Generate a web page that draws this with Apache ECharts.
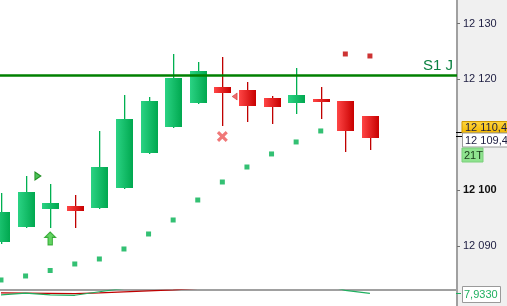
<!DOCTYPE html>
<html><head><meta charset="utf-8">
<script src="https://cdn.jsdelivr.net/npm/echarts/dist/echarts.min.js"></script>
<style>html,body{margin:0;padding:0;background:#ffffff}#c{width:507px;height:306px}</style>
</head><body><div id="c"></div>
<script>
// ---- data ----
const barIndex = [0,1,2,3,4,5,6,7,8,9,10,11,12,13,14,15];
const opens  = [12090.73,12093.38,12096.62,12097.16,12096.80,12100.40,12106.71,12111.39,12115.71,12118.59,12118.05,12116.61,12115.71,12116.43,12116.07,12113.37];
const closes = [12096.08,12099.68,12097.70,12096.26,12104.18,12112.83,12116.07,12120.21,12121.47,12117.51,12115.17,12114.99,12117.15,12115.89,12110.67,12109.40];
const lows   = [12090.27,12093.26,12093.26,12093.26,12096.62,12100.22,12106.58,12111.21,12115.53,12111.57,12112.29,12111.93,12113.73,12112.83,12106.89,12107.25];
const highs  = [12099.50,12102.56,12101.12,12099.14,12110.67,12117.15,12116.79,12124.53,12123.09,12123.99,12119.49,12116.97,12122.01,12118.59,12116.07,12113.37];
const sarValues = [12083.84,12084.56,12085.55,12086.72,12087.62,12089.42,12092.12,12094.64,12098.24,12101.48,12104.18,12106.53,12108.69,12110.67,12124.53,12124.17];
const sarAbove  = [0,0,0,0,0,0,0,0,0,0,0,0,0,0,1,1];
const yTicks = [12090,12100,12120,12130];
const boldTick = 12100;
const s1Level = 12120.62;
const s1Label = 'S1 J';
const lastPrice = 12110.4;
const closePrice = 12109.4;
const timerLabel = '21T';
// signal markers: [barPosition, price]
const upTriangle = [1.5, 12102.56];
const upArrow = [2, 12091.31];
const sellCross = [9, 12109.68];
const leftTriangle = [9.5, 12116.88];
// lower indicator panel
const indGreen = [7.0,8.0,6.9,6.7,8.9,11.0,13.0,14.0,15.0,14.5,14.0,15.0,15.0,14.0,9.8,7.933];
const indRed   = [8.2,8.0,7.85,7.7,8.2,8.85,9.45,10.1,11.0,12.0,12.0,12.0,12.0,12.0,12.0,12.0];
const indLast = '7,9330';

// ---- chart ----
const FONT = '"Liberation Sans", Arial, sans-serif';
const chart = echarts.init(document.getElementById('c'), null, {renderer:'canvas'});
const fmt = v => { const s = String(Math.round(v)); return s.slice(0, s.length-3) + ' ' + s.slice(-3); };

const candleData = barIndex.map((i,k) => [i, opens[k], closes[k], lows[k], highs[k]]);
const greenGrad = new echarts.graphic.LinearGradient(0,0,1,0,[{offset:0,color:'#2bd384'},{offset:1,color:'#00a84f'}]);
const redGrad = new echarts.graphic.LinearGradient(0,0,1,0,[{offset:0,color:'#ff4646'},{offset:1,color:'#c80000'}]);
const split = 457/507;
const bg = new echarts.graphic.LinearGradient(0,0,1,0,[
  {offset:0,color:'#ffffff'},{offset:split,color:'#ffffff'},{offset:split,color:'#f0f0f0'},{offset:1,color:'#f0f0f0'}]);

function renderCandle(params, api) {
  const i = api.value(0), o = api.value(1), c = api.value(2), l = api.value(3), h = api.value(4);
  const up = c >= o;
  const pO = api.coord([i,o]), pC = api.coord([i,c]), pL = api.coord([i,l]), pH = api.coord([i,h]);
  const cx = Math.round(pO[0]);
  const bw = 17;
  const top = Math.round(Math.min(pO[1], pC[1]));
  const bot = Math.round(Math.max(pO[1], pC[1]));
  return {
    type: 'group',
    children: [
      {type:'rect', shape:{x:cx, y:Math.round(pH[1]), width:1.3, height:Math.round(pL[1])-Math.round(pH[1])},
        style:{fill: up ? '#00b050' : '#c00000'}},
      {type:'rect', shape:{x:cx-8, y:top, width:bw, height:Math.max(bot-top,3)},
        style:{fill: up ? greenGrad : redGrad}}
    ]
  };
}

const arrowPath = 'path://M5,0 L10,5 L7,5 L7,12 L3,12 L3,5 L0,5 Z';
const crossPath = 'path://M2,0 L5,3 L8,0 L10,2 L7,5 L10,8 L8,10 L5,7 L2,10 L0,8 L3,5 L0,2 Z';

chart.setOption({
  animation: false,
  backgroundColor: bg,
  grid: [
    {left:0, top:0, width:457, height:301.3, show:false},
    {left:0, top:290, width:457, height:40, show:false}
  ],
  xAxis: [
    {type:'value', gridIndex:0, min:-0.04, max:18.54, show:false, axisLine:{onZero:false}},
    {type:'value', gridIndex:1, min:-0.04, max:18.54, position:'top',
      axisLine:{show:true, onZero:false, lineStyle:{color:'#a0a0a0', width:2}}, axisTick:{show:false}, axisLabel:{show:false}, splitLine:{show:false}}
  ],
  yAxis: [
    {type:'value', gridIndex:0, position:'right', min:12080, max:12134.25, interval:10,
      axisLine:{show:true, onZero:false, lineStyle:{color:'#a0a0a0', width:2}},
      axisTick:{show:true, length:3, lineStyle:{color:'#707070'}, customValues: yTicks},
      splitLine:{show:false},
      axisLabel:{show:true, margin:6, customValues: yTicks,
        formatter: v => (v === boldTick ? '{b|' + fmt(v) + '}' : '{n|' + fmt(v) + '}'),
        rich:{n:{fontFamily:FONT, fontSize:11, color:'#1c1c40'}, b:{fontFamily:FONT, fontSize:11, fontWeight:'bold', color:'#101010'}}}
    },
    {type:'value', gridIndex:1, position:'right', min:0, max:10,
      axisLine:{show:true, onZero:false, lineStyle:{color:'#a0a0a0', width:2}}, axisTick:{show:false}, axisLabel:{show:false}, splitLine:{show:false}}
  ],
  series: [
    {type:'custom', xAxisIndex:0, yAxisIndex:0, renderItem: renderCandle, data: candleData, clip:true, z:3,
      markLine: {silent:true, symbol:'none', data:[{yAxis: s1Level}],
        lineStyle:{color:'#008000', width:2.5, type:'solid'},
        label:{show:true, position:'insideEndTop', formatter: s1Label, color:'#0a8040', fontFamily:FONT, fontSize:15, distance:[4,2]}}},
    {type:'scatter', xAxisIndex:0, yAxisIndex:0, symbol:'rect', symbolSize:5, z:4,
      data: barIndex.map((i,k) => ({value:[i, sarValues[k]], itemStyle:{color: sarAbove[k] ? '#c00000' : '#00b050'}}))},
    {type:'scatter', xAxisIndex:0, yAxisIndex:0, z:5, symbol:'triangle', symbolSize:[8,6], symbolRotate:-90,
      itemStyle:{color:'#20b030', borderColor:'#007a00', borderWidth:1}, data:[upTriangle]},
    {type:'scatter', xAxisIndex:0, yAxisIndex:0, z:5, symbol:arrowPath, symbolSize:[11,13],
      itemStyle:{color:'#3cc83c', borderColor:'#1a9a1a', borderWidth:1}, data:[upArrow]},
    {type:'scatter', xAxisIndex:0, yAxisIndex:0, z:5, symbol:crossPath, symbolSize:[11,11],
      itemStyle:{color:'#ec5656'}, data:[sellCross]},
    {type:'scatter', xAxisIndex:0, yAxisIndex:0, z:5, symbol:'triangle', symbolSize:[7,5], symbolRotate:90,
      itemStyle:{color:'#e84848', borderColor:'#c00000', borderWidth:0.5}, data:[leftTriangle]},
    {type:'line', xAxisIndex:1, yAxisIndex:1, showSymbol:false, clip:true, data: barIndex.map((i,k)=>[i, indRed[k]]),
      lineStyle:{color:'#c00000', width:1.2}},
    {type:'line', xAxisIndex:1, yAxisIndex:1, showSymbol:false, clip:true, data: barIndex.map((i,k)=>[i, indGreen[k]]),
      lineStyle:{color:'#20b060', width:1.2}}
  ]
});

// price tags on the right axis, placed through the axis scales
const yLast = chart.convertToPixel({yAxisIndex:0}, lastPrice);
const yClose = chart.convertToPixel({yAxisIndex:0}, closePrice);
const yInd = chart.convertToPixel({yAxisIndex:1}, 7.933);
const tagGrad = new echarts.graphic.LinearGradient(0,0,0,1,[{offset:0,color:'#ffd640'},{offset:1,color:'#f2b600'}]);
chart.setOption({
  graphic: [
    {type:'line', shape:{x1:456, y1:Math.round(yLast)+0.5, x2:462, y2:Math.round(yLast)+0.5}, style:{stroke:'#000', lineWidth:1}, z:50},
    {type:'line', shape:{x1:456, y1:Math.round(yClose)-1.5, x2:462, y2:Math.round(yClose)-1.5}, style:{stroke:'#000', lineWidth:1}, z:50},
    {type:'rect', shape:{x:462, y:Math.round(yLast)-10.5, width:46, height:11.5}, style:{fill:tagGrad, stroke:'#d09a00', lineWidth:1}, z:50},
    {type:'text', x:465, y:Math.round(yLast)-4.5, style:{text: '12 110,4', fill:'#1c1c40', font:'11px ' + FONT, textVerticalAlign:'middle'}, z:51},
    {type:'rect', shape:{x:462.5, y:Math.round(yLast)+1, width:46, height:14}, style:{fill:'#ffffff', stroke:'#9a9a9a', lineWidth:1}, z:50},
    {type:'text', x:465, y:Math.round(yLast)+8.5, style:{text: '12 109,4', fill:'#1c1c40', font:'11px ' + FONT, textVerticalAlign:'middle'}, z:51},
    {type:'rect', shape:{x:462, y:Math.round(yLast)+16, width:21, height:14}, style:{fill:'#8fe38f', stroke:'#7acf7a', lineWidth:1}, z:50},
    {type:'text', x:464, y:Math.round(yLast)+23.5, style:{text: timerLabel, fill:'#1a3a1a', font:'11px ' + FONT, textVerticalAlign:'middle'}, z:51},
    {type:'line', shape:{x1:456, y1:Math.round(yInd)+0.5, x2:461, y2:Math.round(yInd)+0.5}, style:{stroke:'#20b060', lineWidth:1}, z:50},
    {type:'rect', shape:{x:462.5, y:Math.round(yInd)-6.5, width:38, height:16}, style:{fill:'#ffffff', stroke:'#9a9a9a', lineWidth:1}, z:50},
    {type:'text', x:464, y:Math.round(yInd)+1.5, style:{text: indLast, fill:'#20b060', font:'11px ' + FONT, textVerticalAlign:'middle'}, z:51}
  ]
});
</script>
</body></html>
